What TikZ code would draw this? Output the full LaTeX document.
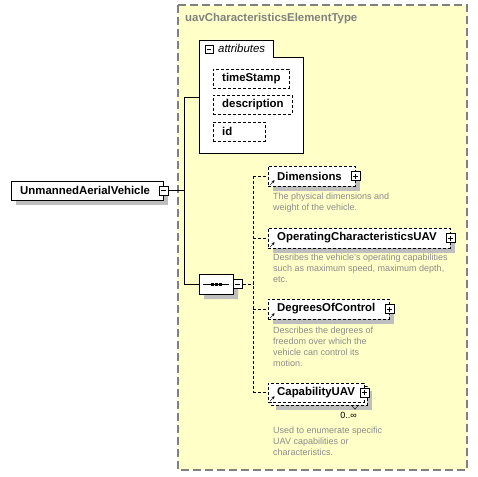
\documentclass[tikz,border=0pt]{standalone}
\usepackage{fontspec}
\setmainfont{Liberation Sans}
\usetikzlibrary{shapes.misc,arrows.meta,backgrounds}
\definecolor{typebg}{HTML}{FFFFC8}
\definecolor{typeline}{HTML}{808080}
\definecolor{shadowgray}{HTML}{BEBEBE}
\definecolor{annot}{HTML}{8C8C8C}
\pgfdeclarelayer{shade}
\pgfsetlayers{background,shade,main}

\tikzset{
  name_font/.style={font=\fontsize{11.4}{13}\selectfont\bfseries},
  note_font/.style={font=\fontsize{9}{11}\selectfont},
  elem_box/.style={draw,densely dashed,fill=white,name_font,anchor=west,
      minimum height=20pt,inner xsep=9pt,inner ysep=0pt,align=left,text width=#1},
  seq_shape/.style={chamfered rectangle,minimum width=34pt,minimum height=20pt,
      chamfered rectangle xsep=6pt,inner sep=0pt},
  toggle/.style={draw,solid,fill=white,inner sep=0pt,minimum size=9pt},
  minus_sign/.style={toggle,path picture={
      \draw ([xshift=2pt]path picture bounding box.west) -- ([xshift=-2pt]path picture bounding box.east);}},
  plus_sign/.style={toggle,path picture={
      \draw ([xshift=2pt]path picture bounding box.west) -- ([xshift=-2pt]path picture bounding box.east);
      \draw ([yshift=2pt]path picture bounding box.south) -- ([yshift=-2pt]path picture bounding box.north);}},
  ref_arrow/.style={solid,-{Stealth[length=3pt,width=3pt]}},
  note/.style={note_font,text=annot,anchor=north west,inner sep=0pt,align=left},
  link/.style={densely dashed}
}

\begin{document}
\begin{tikzpicture}[x=1pt,y=-1pt]
  \useasboundingbox (0,0) rectangle (478,476);
  \begin{pgfonlayer}{background}
    \draw[typeline,fill=typebg,line width=1.3pt,dash pattern=on 8pt off 4pt] (178,5) rectangle (467,470);
  \end{pgfonlayer}
  \node[name_font,text=typeline,anchor=west,inner sep=0pt] (type_name) at (185,19) {uavCharacteristicsElementType};

  \draw[fill=white] (199,40) -- (273,40) -- (273,57) -- (303,57) -- (303,153) -- (199,153) -- cycle;
  \node[minus_sign,minimum size=8pt] (attr_minus) at (209,49) {};
  \node[font=\fontsize{11.4}{13}\selectfont\itshape,anchor=west,inner sep=0pt] (attr_title) at (218,48) {attributes};
  \coordinate (attr_in) at (199,97);
  \node[elem_box=58pt,minimum height=19pt] (time_stamp) at (213,78.5) {timeStamp};
  \node[elem_box=61pt,minimum height=19pt] (description) at (213,104.5) {description};
  \node[elem_box=34pt,minimum height=19pt] (id) at (213,131.5) {id};

  \node[elem_box=134pt,solid,minimum height=19pt] (uav) at (11,190.5) {UnmannedAerialVehicle};
  \node[minus_sign] (uav_minus) at (uav.east) {};

  \node[seq_shape,draw,fill=white] (seq) at (216,284) {};
  \draw (seq.center) +(-13,0) -- +(13,0);
  \foreach \dx in {-4,0,4}
    \fill ([xshift=\dx pt]seq.center) +(-1.5,-1.5) rectangle +(1.5,1.5);
  \node[minus_sign,anchor=west] (seq_minus) at (seq.east) {};

  \coordinate (spine_top) at (184,97);
  \coordinate (spine_bot) at (184,284);
  \draw (attr_in) -- (spine_top) -- (spine_bot) -- (seq.west);
  \draw (uav_minus.east) -- (uav_minus -| spine_top);

  \coordinate (branch_mid) at (253,284);
  \draw[link] (seq_minus.east) -- (branch_mid);

  \foreach \name/\y/\w/\txt in {dims/176/69/Dimensions,oper/238/164/OperatingCharacteristicsUAV,dof/309/103/DegreesOfControl}{
    \node[elem_box=\w pt] (\name) at (268,\y) {\txt};
    \node[plus_sign] (\name_plus) at (\name.east) {};
    \draw[link] (\name.west -| branch_mid) -- (\name.west);
    \draw[ref_arrow] ([shift={(2pt,1pt)}]\name.south west) -- ++(4.5,-5);
  }

  \node[elem_box=78pt,minimum height=19pt] (cap_back) at (271,395.5) {};
  \node[elem_box=78pt,minimum height=19pt] (cap) at (268,392.5) {CapabilityUAV};
  \node[plus_sign] (cap_plus) at (cap.east) {};
  \draw[link] (cap.west -| branch_mid) -- (cap.west);
  \draw[ref_arrow] ([shift={(2pt,1pt)}]cap.south west) -- ++(4.5,-5);
  \draw[link] (dims.west -| branch_mid) -- (cap.west -| branch_mid);
  \draw ([xshift=-16pt]cap_back.south east) -- ++(3.5,4) -- ++(3.5,-4);
  \node[note_font,inner sep=0pt] (cap_occurs) at (348.5,415) {0..∞};

  \node[note] (dims_note) at (273,193) {The physical dimensions and\\weight of the vehicle.};
  \node[note] (oper_note) at (273,254) {Desribes the vehicle's operating capabilities\\such as maximum speed, maximum depth,\\etc.};
  \node[note] (dof_note) at (273,326.5) {Describes the degrees of\\freedom over which the\\vehicle can control its\\motion.};
  \node[note] (cap_note) at (273,427) {Used to enumerate specific\\UAV capabilities or\\characteristics.};

  \begin{pgfonlayer}{shade}
    \foreach \elem in {time_stamp,description,id,uav,dims,oper,dof,cap_back}
      \fill[shadowgray] ([shift={(5pt,-5pt)}]\elem.south west) rectangle ([shift={(5pt,-5pt)}]\elem.north east);
    \node[seq_shape,fill=shadowgray] (seq_shade) at ([shift={(5pt,-5pt)}]seq.center) {};
  \end{pgfonlayer}
\end{tikzpicture}
\end{document}
